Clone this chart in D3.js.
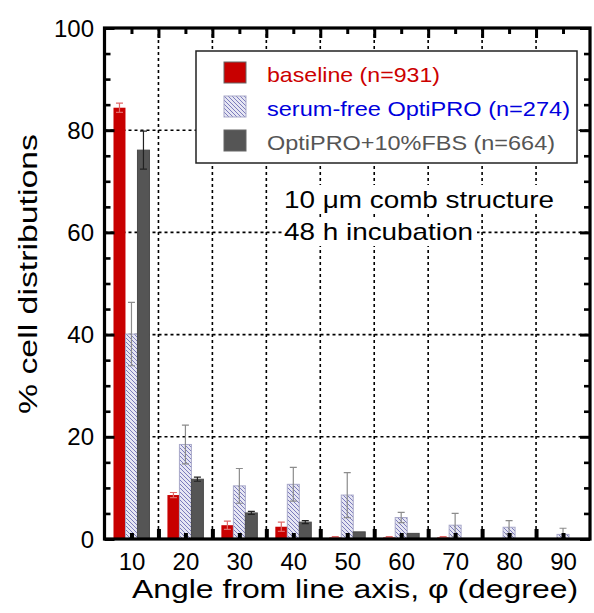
<!DOCTYPE html>
<html>
<head>
<meta charset="utf-8">
<script src="https://cdn.jsdelivr.net/npm/d3@7/dist/d3.min.js"></script>
<style>
  html, body { margin: 0; padding: 0; background: #fff; }
  svg { display: block; }
  text { font-family: "Liberation Sans", Arial, Helvetica, sans-serif; }
</style>
</head>
<body>
<svg id="chart" width="594" height="613"></svg>
<script>
// Angle bins (degrees from the line axis)
const categories = [10, 20, 30, 40, 50, 60, 70, 80, 90];
const binEdges = [15, 25, 35, 45, 55, 65, 75, 85];

// % of cells in each bin, with error bars
const baseline    = [84.4, 8.6, 2.7, 2.4, 0.3, 0.3, 0.3, 0, 0];
const baselineErr = [0.9, 0.5, 0.8, 0.9, 0.15, 0.15, 0.15, 0, 0];
const serumFree    = [40.1, 18.5, 10.4, 10.7, 8.6, 4.2, 2.7, 2.3, 0.9];
const serumFreeErr = [6.2, 3.8, 3.4, 3.3, 4.4, 1.0, 2.3, 1.3, 1.2];
const fbs    = [76.1, 11.7, 5.1, 3.3, 1.4, 1.1, 0, 0, 0];
const fbsErr = [3.7, 0.4, 0.3, 0.3, 0, 0, 0, 0, 0];

const seriesLabels = ["baseline (n=931)", "serum-free OptiPRO (n=274)", "OptiPRO+10%FBS (n=664)"];
const yTicks = [0, 20, 40, 60, 80, 100];
const yMinorTicks = [5, 10, 15, 25, 30, 35, 45, 50, 55, 65, 70, 75, 85, 90, 95];
const gridY = [20, 40, 60, 80];
const annotation = ["10 \u03bcm comb structure", "48 h incubation"];
const xTitle = "Angle from line axis, \u03c6  (degree)";
const yTitle = "% cell distributions";

const series = [
  { label: seriesLabels[0], values: baseline, err: baselineErr, fill: "#c80000", stroke: "none", errColor: "#e06a6a", text: "#cc0000" },
  { label: seriesLabels[1], values: serumFree, err: serumFreeErr, fill: "url(#hatch)", stroke: "#a9a9c9", errColor: "#8c8c8c", text: "#0000dd" },
  { label: seriesLabels[2], values: fbs, err: fbsErr, fill: "#555555", stroke: "#4a4a4a", errColor: "#222222", text: "#555555" }
];

const svg = d3.select("#chart");
const plotL = 104.5, plotR = 590, plotT = 28, plotB = 539;

const x = d3.scaleLinear().domain([5, 95]).range([plotL, plotR]);
const y = d3.scaleLinear().domain([0, 100]).range([plotB, plotT]);

// hatch pattern for the serum-free bars
const defs = svg.append("defs");
const pat = defs.append("pattern")
  .attr("id", "hatch").attr("patternUnits", "userSpaceOnUse")
  .attr("width", 4).attr("height", 4);
pat.append("rect").attr("width", 4).attr("height", 4).attr("fill", "#e6e6f3");
pat.append("path")
  .attr("d", "M-1,-1 L5,5 M3,-1 L5,1 M-1,3 L1,5")
  .attr("stroke", "#7c7cbc").attr("stroke-width", 1);

// dotted grid
const grid = svg.append("g").attr("stroke", "#000").attr("stroke-width", 1.6)
  .attr("stroke-dasharray", "3,3").attr("fill", "none");
grid.selectAll("line.gy").data(gridY).join("line").attr("class", "gy")
  .attr("x1", plotL).attr("x2", plotR)
  .attr("y1", d => y(d)).attr("y2", d => y(d));
grid.selectAll("line.gx").data(binEdges).join("line").attr("class", "gx")
  .attr("x1", d => x(d)).attr("x2", d => x(d))
  .attr("y1", plotT).attr("y2", plotB);

// grouped bars
const band = x(15) - x(5);
const barW = band * 2 / 9;
const barsG = svg.append("g");
series.forEach((s, si) => {
  const off = (si - 1.5) * barW;
  barsG.append("g").selectAll("rect").data(categories.map((c, i) => ({ c, v: s.values[i] })).filter(d => d.v > 0))
    .join("rect")
    .attr("x", d => x(d.c) + off)
    .attr("width", barW)
    .attr("y", d => y(d.v))
    .attr("height", d => y(0) - y(d.v))
    .attr("fill", s.fill)
    .attr("stroke", s.stroke)
    .attr("stroke-width", 1);
});

// error bars
series.forEach((s, si) => {
  const cx = (si - 1) * barW;
  const data = categories.map((c, i) => ({ c, v: s.values[i], e: s.err[i] })).filter(d => d.v > 0 && d.e > 0);
  const g = barsG.append("g").attr("stroke", s.errColor).attr("stroke-width", 1.2).attr("fill", "none");
  g.selectAll("path").data(data).join("path")
    .attr("d", d => {
      const xc = x(d.c) + cx, yt = y(d.v + d.e), yb = y(Math.max(0, d.v - d.e));
      return `M${xc},${yt}V${yb}M${xc - 3.5},${yt}H${xc + 3.5}M${xc - 3.5},${yb}H${xc + 3.5}`;
    });
});

// axes: ticks pointing inward on all four sides
function styleTicks(g, w) {
  g.select(".domain").remove();
  g.selectAll(".tick line").attr("stroke", "#000").attr("stroke-width", w);
}
const labelFont = 24;

const yLeft = svg.append("g").attr("transform", `translate(${plotL},0)`)
  .call(d3.axisLeft(y).tickValues(yTicks).tickSizeInner(-10).tickSizeOuter(0).tickPadding(10.5));
styleTicks(yLeft, 3);
yLeft.selectAll(".tick text").attr("font-size", labelFont).attr("fill", "#000").attr("dy", "0.34em")
  .style("font-family", '"Liberation Sans", Arial, sans-serif');
svg.append("g").attr("transform", `translate(${plotL},0)`)
  .call(d3.axisLeft(y).tickValues(yMinorTicks).tickSizeInner(-6).tickSizeOuter(0).tickFormat(""))
  .call(g => styleTicks(g, 2.6));

svg.append("g").attr("transform", `translate(${plotR},0)`)
  .call(d3.axisRight(y).tickValues(yTicks).tickSizeInner(-10).tickSizeOuter(0).tickFormat(""))
  .call(g => styleTicks(g, 3));
svg.append("g").attr("transform", `translate(${plotR},0)`)
  .call(d3.axisRight(y).tickValues(yMinorTicks).tickSizeInner(-6).tickSizeOuter(0).tickFormat(""))
  .call(g => styleTicks(g, 2.6));

const xBottom = svg.append("g").attr("transform", `translate(0,${plotB})`)
  .call(d3.axisBottom(x).tickValues(categories).tickSizeInner(-6).tickSizeOuter(0).tickPadding(14));
styleTicks(xBottom, 4);
xBottom.selectAll(".tick text").attr("font-size", labelFont).attr("fill", "#000")
  .style("font-family", '"Liberation Sans", Arial, sans-serif');
svg.append("g").attr("transform", `translate(0,${plotB})`)
  .call(d3.axisBottom(x).tickValues(binEdges).tickSizeInner(-10).tickSizeOuter(0).tickFormat(""))
  .call(g => styleTicks(g, 4));

svg.append("g").attr("transform", `translate(0,${plotT})`)
  .call(d3.axisTop(x).tickValues(categories).tickSizeInner(-6).tickSizeOuter(0).tickFormat(""))
  .call(g => styleTicks(g, 3));
svg.append("g").attr("transform", `translate(0,${plotT})`)
  .call(d3.axisTop(x).tickValues(binEdges).tickSizeInner(-10).tickSizeOuter(0).tickFormat(""))
  .call(g => styleTicks(g, 3));

// plot frame
svg.append("rect")
  .attr("x", plotL).attr("y", plotT)
  .attr("width", plotR - plotL).attr("height", plotB - plotT)
  .attr("fill", "none").attr("stroke", "#000").attr("stroke-width", 3.2);

// axis titles
svg.append("text")
  .attr("x", 132).attr("y", 598)
  .attr("font-size", 26).attr("fill", "#000")
  .attr("textLength", 446).attr("lengthAdjust", "spacingAndGlyphs")
  .text(xTitle);
svg.append("text")
  .attr("transform", `translate(37,${414}) rotate(-90)`)
  .attr("font-size", 26).attr("fill", "#000")
  .attr("textLength", 280).attr("lengthAdjust", "spacingAndGlyphs")
  .text(yTitle);

// legend
const lg = svg.append("g");
lg.append("rect").attr("x", 196).attr("y", 51).attr("width", 381).attr("height", 112)
  .attr("fill", "#fff").attr("stroke", "#222").attr("stroke-width", 1.5);
const legendWidths = [173, 303, 288];
series.forEach((s, i) => {
  const by = 82 + i * 34;
  lg.append("rect").attr("x", 224).attr("y", by - 20).attr("width", 22).attr("height", 21)
    .attr("fill", s.fill).attr("stroke", i === 1 ? "#a9a9c9" : "#666").attr("stroke-width", 1);
  lg.append("text").attr("x", 267).attr("y", by)
    .attr("font-size", 21).attr("fill", s.text)
    .attr("textLength", legendWidths[i]).attr("lengthAdjust", "spacingAndGlyphs")
    .text(s.label);
});

// condition annotation, with a white backing over the grid
const annWidths = [270, 189];
annotation.forEach((t, i) => {
  const ty = 208 + i * 32;
  const tx = svg.append("text").attr("x", 284).attr("y", ty)
    .attr("font-size", 24).attr("fill", "#000")
    .attr("textLength", annWidths[i]).attr("lengthAdjust", "spacingAndGlyphs")
    .text(t);
  const bb = tx.node().getBBox();
  svg.insert("rect", () => tx.node())
    .attr("x", bb.x - 2).attr("y", bb.y - 1)
    .attr("width", annWidths[i] + 6).attr("height", bb.height + 2)
    .attr("fill", "#fff");
});
</script>
</body>
</html>
